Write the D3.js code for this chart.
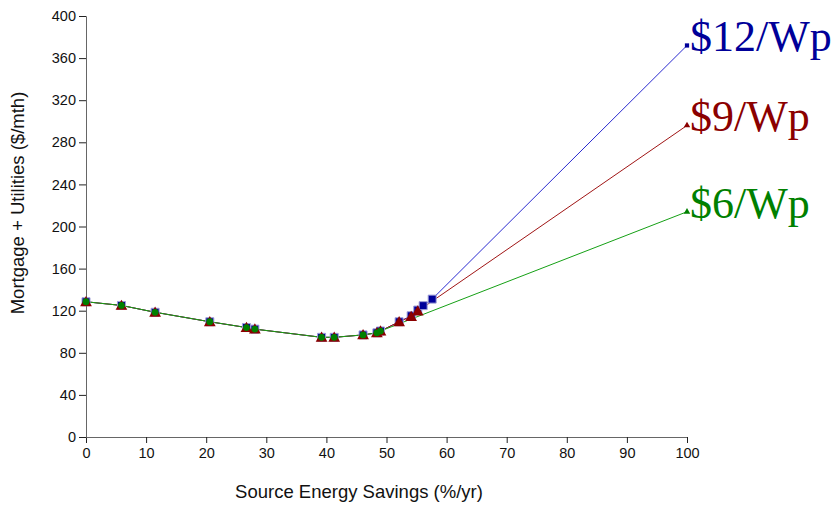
<!DOCTYPE html>
<html><head><meta charset="utf-8">
<script src="https://cdn.jsdelivr.net/npm/d3@7"></script>
<style>body{margin:0;background:#fff}svg{display:block}</style>
</head><body>
<svg id="c" width="839" height="506"></svg>
<script>
const xTicks = [0,10,20,30,40,50,60,70,80,90,100];
const yTicks = [0,40,80,120,160,200,240,280,320,360,400];
const blueX = [0,5.9,11.5,20.6,26.7,28.1,39.2,41.3,46.1,48.4,49.0,52.1,54.1,55.2,56.1,57.6,100];
const blueY = [128.5,125,118.5,109.5,104,102.5,94.7,94.7,97,99,100.7,109.5,115.2,120.6,124.8,131,372];
const redX = [0,5.9,11.5,20.6,26.7,28.1,39.2,41.3,46.1,48.4,49.0,52.1,54.1,55.2,100];
const redY = [128.5,125,118.5,109.5,104,102.5,94.7,94.7,97,99,100.7,109.5,114.5,119.6,296];
const greenX = [0,5.9,11.5,20.6,26.7,28.1,39.2,41.3,46.1,48.4,49.0,100];
const greenY = [128.5,125,118.5,109.5,104,102.5,94.7,94.7,97,99,100.7,214];
const seriesNames = ["$12/Wp","$9/Wp","$6/Wp"];
const seriesColors = ["#000099","#8b0000","#008000"];
const lineColors = ["#2a2ad0","#a01515","#15a015"];

const svg = d3.select("#c");
const x = d3.scaleLinear().domain([0,100]).range([86,687]);
const y = d3.scaleLinear().domain([0,400]).range([437,16]);

const xa = svg.append("g").attr("transform","translate(0,437)")
  .call(d3.axisBottom(x).tickValues(xTicks).tickSize(6).tickPadding(5));
const ya = svg.append("g").attr("transform","translate(86,0)")
  .call(d3.axisLeft(y).tickValues(yTicks).tickSize(7).tickPadding(3));
[xa,ya].forEach(g=>{
  g.select(".domain").attr("stroke","#666");
  g.selectAll(".tick line").attr("stroke","#222");
  g.selectAll("text").attr("font-family","Liberation Sans, Arial, sans-serif").attr("font-size",14.5).attr("fill","#111");
});

svg.append("text").attr("x",359).attr("y",498).attr("text-anchor","middle")
  .attr("font-family","Liberation Sans, Arial, sans-serif").attr("font-size",18.5).attr("fill","#111")
  .text("Source Energy Savings (%/yr)");
svg.append("text").attr("transform","translate(24,203) rotate(-90)").attr("text-anchor","middle")
  .attr("font-family","Liberation Sans, Arial, sans-serif").attr("font-size",18.5).attr("fill","#111")
  .text("Mortgage + Utilities ($/mth)");

const series = [
  {xs:blueX, ys:blueY},
  {xs:redX, ys:redY},
  {xs:greenX, ys:greenY}
];
const line = d3.line().x(d=>x(d[0])).y(d=>y(d[1]));
series.forEach((s,i)=>{
  const pts = s.xs.map((v,j)=>[v,s.ys[j]]);
  svg.append("path").datum(pts).attr("d",line).attr("fill","none")
    .attr("stroke",lineColors[i]).attr("stroke-width",1);
});
const symType = [d3.symbolSquare, d3.symbolTriangle, d3.symbolCircle];
const symSize = [64, 60, 36];
series.forEach((s,i)=>{
  const pts = s.xs.map((v,j)=>[v,s.ys[j]]);
  svg.append("g").selectAll("path").data(pts).join("path")
    .attr("transform",d=>`translate(${x(d[0])},${y(d[1]) + (i===1 && d[0]!==100 ? 1 : 0)})`)
    .attr("d",d=>d3.symbol().type(d[0]===100 ? (i===0?d3.symbolSquare:d3.symbolTriangle) : symType[i])
      .size(d[0]===100 ? 18 : symSize[i])())
    .attr("fill",seriesColors[i])
    .attr("stroke", d=>d[0]===100?"none":(i===0?"#a0a0d8":"none"))
    .attr("stroke-width",1);
  const last = pts[pts.length-1];
  svg.append("text").attr("x",x(last[0])+3).attr("y",y(last[1])+6)
    .attr("font-family","Liberation Serif, Times New Roman, serif").attr("font-size",44)
    .attr("fill",seriesColors[i]).text(seriesNames[i]);
});
</script>
</body></html>
